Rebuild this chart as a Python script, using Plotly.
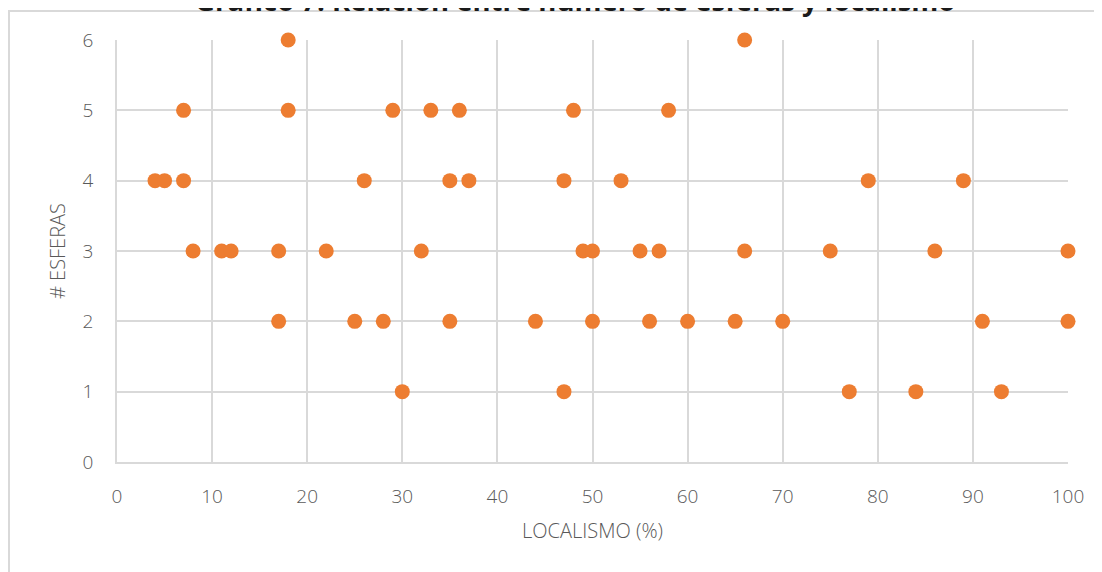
import plotly.graph_objects as go

# Data: (localismo %, number of spheres)
localismo = [18, 66,
             7, 18, 29, 33, 36, 48, 58,
             4, 5, 7, 26, 35, 37, 47, 53, 79, 89,
             8, 11, 12, 17, 22, 32, 49, 50, 55, 57, 66, 75, 86, 100,
             17, 25, 28, 35, 44, 50, 56, 60, 65, 70, 91, 100,
             30, 47, 77, 84, 93]
esferas = [6, 6,
           5, 5, 5, 5, 5, 5, 5,
           4, 4, 4, 4, 4, 4, 4, 4, 4, 4,
           3, 3, 3, 3, 3, 3, 3, 3, 3, 3, 3, 3, 3, 3,
           2, 2, 2, 2, 2, 2, 2, 2, 2, 2, 2, 2,
           1, 1, 1, 1, 1]
x_ticks = [0, 10, 20, 30, 40, 50, 60, 70, 80, 90, 100]
y_ticks = [0, 1, 2, 3, 4, 5, 6]

title_text = "Gráfico 7. Relación entre número de esferas y localismo"
x_title = "LOCALISMO (%)"
y_title = "# ESFERAS"

OFF = 8  # page body margin
W, H = 1102 - OFF, 572 - OFF
L, T = 117 - OFF, 40 - OFF
R, B = W - (1068 - OFF), H - (462 - OFF)
pw, ph = W - L - R, H - T - B

def px_x(sx):
    return (sx - OFF - L) / pw

def px_y(sy):
    return (H - B - (sy - OFF)) / ph

grid = "#D9D9D9"
txt = "#595959"

fig = go.Figure()
fig.add_trace(go.Scatter(
    x=localismo, y=esferas, mode="markers",
    marker=dict(size=15, color="#ED7D31", line=dict(width=0)),
    cliponaxis=False, showlegend=False,
))

fig.update_layout(
    width=W, height=H,
    margin=dict(l=L, r=R, t=T, b=B),
    paper_bgcolor="white", plot_bgcolor="white",
    font=dict(family="Open Sans", color=txt, size=14),
)
fig.update_xaxes(
    range=[0, 100], tickvals=x_ticks, showgrid=True, gridcolor=grid, gridwidth=1.5,
    zeroline=False, showline=True, linecolor=grid, linewidth=1.5,
    ticks="", ticklabelstandoff=16, tickfont=dict(size=19, color=txt, weight=300),
    title=dict(text=x_title, font=dict(size=20, color=txt, weight=300), standoff=16),
)
fig.update_yaxes(
    range=[0, 6], tickvals=y_ticks, showgrid=True, gridcolor=grid, gridwidth=1.5,
    zeroline=False, showline=True, linecolor=grid, linewidth=1.5,
    ticks="", ticklabelstandoff=18, tickfont=dict(size=19, color=txt, weight=300),
    title=dict(text=y_title, font=dict(size=20, color=txt, weight=300), standoff=12),
)

# chart-area border (top and left edges visible)
fig.add_shape(type="line", xref="paper", yref="paper",
              x0=px_x(8), x1=px_x(1110), y0=px_y(11), y1=px_y(11),
              line=dict(color=grid, width=2))
fig.add_shape(type="line", xref="paper", yref="paper",
              x0=px_x(9), x1=px_x(9), y0=px_y(11), y1=px_y(580),
              line=dict(color=grid, width=2))

fig.add_annotation(text="<b>" + title_text + "</b>", xref="paper", yref="paper",
                   x=px_x(575), y=px_y(21), xanchor="center", yanchor="bottom",
                   showarrow=False, font=dict(family="Open Sans", size=27.5, color="#1a1a1a"))

fig.write_html("out.html")
